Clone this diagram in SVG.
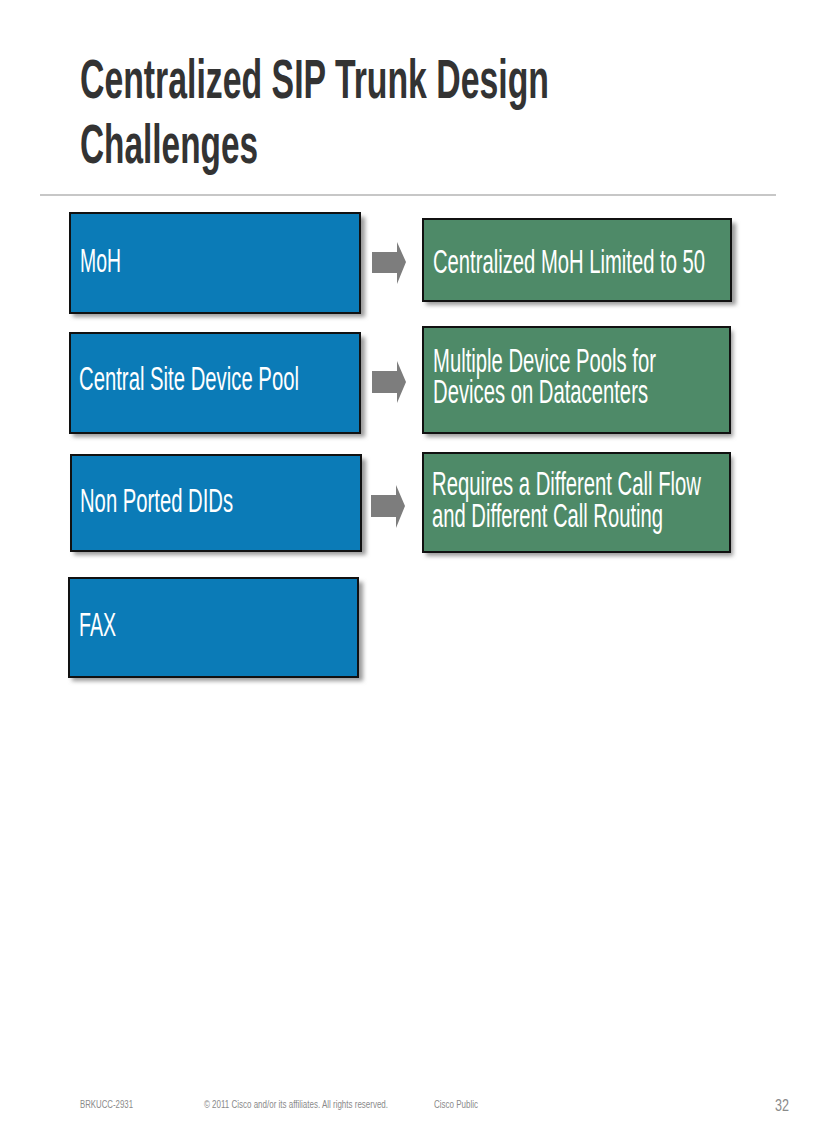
<svg xmlns="http://www.w3.org/2000/svg" width="816" height="1123" viewBox="0 0 816 1123">
<style>
.title{font-family:"Liberation Sans",Arial,sans-serif;font-weight:bold;font-size:56px;fill:#333333}
.lbl{font-family:"Liberation Sans",Arial,sans-serif;font-size:33px;fill:#ffffff}
.blue{fill:#0b7bb7;stroke:#111111;stroke-width:2}
.green{fill:#4e8a68;stroke:#111111;stroke-width:2}
.shadow{fill:#9a9a9a;filter:url(#blur)}
.arrow{fill:#7d7d7d}
.foot{font-family:"Liberation Sans",Arial,sans-serif;font-size:11px;fill:#8a8a8a}
.num{font-family:"Liberation Sans",Arial,sans-serif;font-size:17px;fill:#8a8a8a}
</style>
<defs>
<filter id="blur" x="-10%" y="-10%" width="120%" height="130%"><feGaussianBlur stdDeviation="2"/></filter>
</defs>
<rect width="816" height="1123" fill="#ffffff"/>
<g id="title">
<text class="title" transform="translate(80,98) scale(0.6,1)" textLength="781.7" lengthAdjust="spacingAndGlyphs">Centralized SIP Trunk Design</text>
<text class="title" transform="translate(80,163) scale(0.6,1)" textLength="296.7" lengthAdjust="spacingAndGlyphs">Challenges</text>
<line x1="40" y1="195" x2="776" y2="195" stroke="#b5b5b5" stroke-width="1.5"/>
</g>
<g id="node-moh">
<rect class="shadow" x="73" y="217" width="292" height="100"/>
<rect class="blue" x="70" y="213" width="290" height="100"/>
<text class="lbl" transform="translate(80,272) scale(0.62,1)" textLength="66.1" lengthAdjust="spacingAndGlyphs">MoH</text>
</g>
<g id="node-central-site">
<rect class="shadow" x="73" y="337" width="292" height="100"/>
<rect class="blue" x="70" y="333" width="290" height="100"/>
<text class="lbl" transform="translate(79,390) scale(0.62,1)" textLength="354.8" lengthAdjust="spacingAndGlyphs">Central Site Device Pool</text>
</g>
<g id="node-nonported">
<rect class="shadow" x="74" y="459" width="292" height="96"/>
<rect class="blue" x="71" y="455" width="290" height="96"/>
<text class="lbl" transform="translate(80,512) scale(0.62,1)" textLength="246.8" lengthAdjust="spacingAndGlyphs">Non Ported DIDs</text>
</g>
<g id="node-fax">
<rect class="shadow" x="72" y="582" width="291" height="99"/>
<rect class="blue" x="69" y="578" width="289" height="99"/>
<text class="lbl" transform="translate(79,636) scale(0.62,1)" textLength="59.7" lengthAdjust="spacingAndGlyphs">FAX</text>
</g>
<g id="node-moh-limit">
<rect class="shadow" x="426" y="223" width="310" height="82"/>
<rect class="green" x="423" y="219" width="308" height="82"/>
<text class="lbl" transform="translate(433,273) scale(0.62,1)" textLength="438.7" lengthAdjust="spacingAndGlyphs">Centralized MoH Limited to 50</text>
</g>
<g id="node-multi-pools">
<rect class="shadow" x="426" y="331" width="307" height="106"/>
<rect class="green" x="423" y="327" width="307" height="106"/>
<text class="lbl" transform="translate(433,372) scale(0.62,1)" textLength="359.7" lengthAdjust="spacingAndGlyphs">Multiple Device Pools for</text>
<text class="lbl" transform="translate(433,403) scale(0.62,1)" textLength="346.8" lengthAdjust="spacingAndGlyphs">Devices on Datacenters</text>
</g>
<g id="node-call-flow">
<rect class="shadow" x="426" y="457" width="307" height="99"/>
<rect class="green" x="423" y="453" width="307" height="99"/>
<text class="lbl" transform="translate(432,495) scale(0.62,1)" textLength="433.9" lengthAdjust="spacingAndGlyphs">Requires a Different Call Flow</text>
<text class="lbl" transform="translate(432,527) scale(0.62,1)" textLength="372.6" lengthAdjust="spacingAndGlyphs">and Different Call Routing</text>
</g>
<g id="connectors">
<polygon class="arrow" points="372,252 397,252 397,242 406,262 397,284 397,273 372,273"/>
<polygon class="arrow" points="372,371 397,371 397,361 406,382 397,403 397,393 372,393"/>
<polygon class="arrow" points="371,495 396,495 396,485 405,506 396,528 396,517 371,517"/>
</g>
<g id="footer">
<text class="foot" transform="translate(80,1108) scale(0.7,1)" textLength="75.7" lengthAdjust="spacingAndGlyphs">BRKUCC-2931</text>
<text class="foot" transform="translate(204,1108) scale(0.7,1)" textLength="262.9" lengthAdjust="spacingAndGlyphs">© 2011 Cisco and/or its affiliates. All rights reserved.</text>
<text class="foot" transform="translate(434,1108) scale(0.7,1)" textLength="62.9" lengthAdjust="spacingAndGlyphs">Cisco Public</text>
<text class="num" transform="translate(775,1111) scale(0.74,1)" textLength="18.9" lengthAdjust="spacingAndGlyphs">32</text>
</g>
</svg>
